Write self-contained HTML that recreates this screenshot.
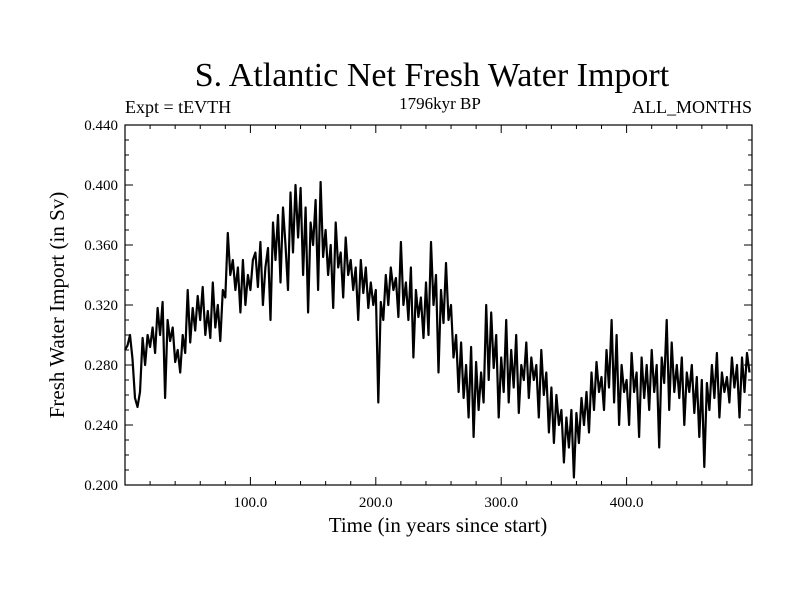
<!DOCTYPE html>
<html><head><meta charset="utf-8"><style>
body{margin:0;background:#fff;width:800px;height:600px;overflow:hidden}
svg text{font-family:"Liberation Serif",serif;fill:#000}
</style></head><body>
<svg id="chart" width="800" height="600" xmlns="http://www.w3.org/2000/svg">
<text x="432" y="86" font-size="34" text-anchor="middle">S. Atlantic Net Fresh Water Import</text>
<text x="125" y="113" font-size="18">Expt = tEVTH</text>
<text x="440" y="109" font-size="17" text-anchor="middle">1796kyr BP</text>
<text x="752" y="113" font-size="18" text-anchor="end">ALL_MONTHS</text>
<text transform="translate(64,305) rotate(-90)" font-size="21" text-anchor="middle">Fresh Water Import (in Sv)</text>
<text x="438" y="532" font-size="21" text-anchor="middle">Time (in years since start)</text>
<g id="ticks"></g>
<path id="series" fill="none" stroke="#000" stroke-width="2.2" stroke-linejoin="round"/>
<rect x="125" y="125" width="627" height="360" fill="none" stroke="#000" stroke-width="1.2"/>
</svg>
<script>
const yearStep = 2;
const values = [
.290,.293,.300,.284,.258,.252,.262,.298,.280,.300,
.292,.305,.288,.318,.300,.322,.258,.310,.296,.305,
.282,.290,.275,.300,.288,.330,.295,.318,.303,.326,
.310,.332,.300,.316,.298,.335,.305,.320,.296,.330,
.325,.368,.340,.350,.330,.345,.315,.350,.320,.340,
.330,.350,.355,.332,.362,.320,.345,.358,.310,.375,
.350,.380,.335,.385,.360,.330,.395,.355,.400,.365,
.398,.340,.385,.315,.375,.360,.390,.330,.402,.352,
.370,.340,.360,.318,.375,.345,.355,.325,.365,.340,
.350,.330,.345,.310,.350,.328,.345,.318,.335,.320,
.330,.255,.322,.310,.340,.320,.345,.330,.338,.312,
.362,.320,.335,.310,.345,.285,.330,.312,.325,.298,
.335,.300,.362,.320,.340,.275,.330,.308,.348,.310,
.320,.285,.300,.262,.295,.258,.280,.245,.292,.232,
.282,.250,.275,.255,.320,.270,.315,.278,.300,.245,
.285,.262,.310,.255,.290,.265,.300,.248,.280,.270,
.295,.258,.285,.270,.280,.245,.290,.260,.275,.235,
.265,.228,.260,.240,.250,.215,.245,.225,.250,.205,
.248,.228,.258,.240,.262,.235,.275,.250,.282,.262,
.272,.250,.290,.265,.310,.255,.300,.240,.280,.262,
.270,.240,.288,.262,.275,.232,.285,.258,.280,.250,
.290,.262,.280,.225,.285,.268,.310,.250,.295,.262,
.280,.258,.285,.240,.275,.262,.280,.248,.272,.232,
.270,.212,.268,.250,.280,.258,.288,.245,.275,.262,
.272,.255,.285,.265,.280,.245,.285,.262,.288,.275];
const xTickValues = [100,200,300,400];
const xTickLabels = ["100.0","200.0","300.0","400.0"];
const yTickValues = [0.20,0.24,0.28,0.32,0.36,0.40,0.44];
const yTickLabels = ["0.200","0.240","0.280","0.320","0.360","0.400","0.440"];
const X0=125,X1=752,Y0=485,Y1=125, XMIN=0,XMAX=500,YMIN=0.2,YMAX=0.44;
const xs=t=>X0+(t-XMIN)/(XMAX-XMIN)*(X1-X0);
const ys=v=>Y0-(v-YMIN)/(YMAX-YMIN)*(Y0-Y1);
const NS="http://www.w3.org/2000/svg";
let d="";
values.forEach((v,i)=>{d+=(i?"L":"M")+xs(i*yearStep).toFixed(1)+","+ys(v).toFixed(1);});
document.getElementById("series").setAttribute("d",d);
const g=document.getElementById("ticks");
function line(x1,y1,x2,y2,name){const l=document.createElementNS(NS,"line");
l.setAttribute("x1",x1);l.setAttribute("y1",y1);l.setAttribute("x2",x2);l.setAttribute("y2",y2);
l.setAttribute("stroke","#000");l.setAttribute("stroke-width","1");


g.appendChild(l);}
function text(x,y,s,anchor,name){const t=document.createElementNS(NS,"text");
t.setAttribute("x",x);t.setAttribute("y",y);t.setAttribute("font-size","15");t.setAttribute("text-anchor",anchor);t.textContent=s;


g.appendChild(t);}
for(let t=20;t<XMAX;t+=20){const x=xs(t);const major=t%100===0;const L=major?8:4;
line(x,Y0,x,Y0-L,"x-tick");line(x,Y1,x,Y1+L,"x-tick-top");}
xTickValues.forEach((t,i)=>text(xs(t),Y0+22,xTickLabels[i],"middle","x-tick-label"));
for(let k=1;k<24;k++){const v=YMIN+k*0.01;const y=ys(v);const major=k%4===0;const L=major?8:4;
line(X0,y,X0+L,y,"y-tick");line(X1,y,X1-L,y,"y-tick-right");}
yTickValues.forEach((v,i)=>text(X0-7,ys(v)+5,yTickLabels[i],"end","y-tick-label"));
</script>
</body></html>
